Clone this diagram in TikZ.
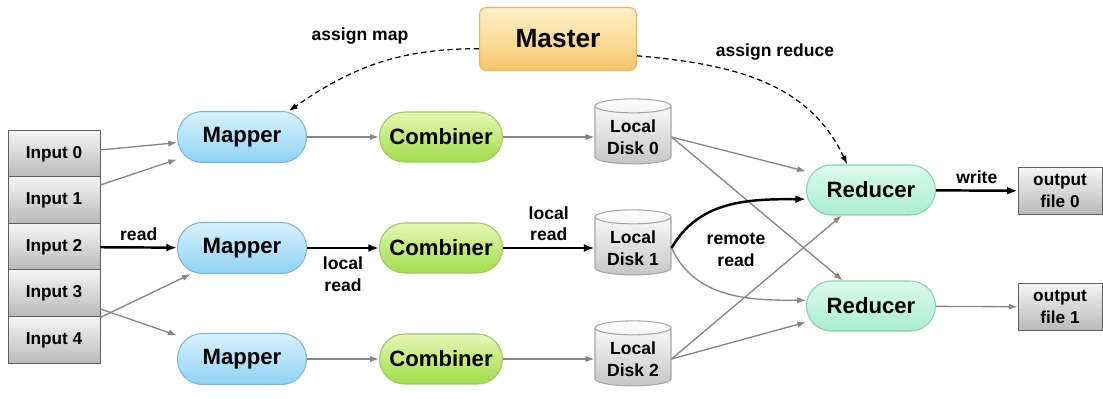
\documentclass[tikz,border=0pt]{standalone}
\usepackage{fontspec}
\setmainfont{Liberation Sans}
\usepackage{tikz}
\usetikzlibrary{arrows.meta,shapes.geometric}

\definecolor{MapTop}{HTML}{D8F1FD}
\definecolor{MapBot}{HTML}{8FD2F4}
\definecolor{MapLine}{HTML}{7BB6DC}
\definecolor{CombTop}{HTML}{E4F8B4}
\definecolor{CombBot}{HTML}{A2DC48}
\definecolor{CombLine}{HTML}{9CC868}
\definecolor{RedTop}{HTML}{DDFAEF}
\definecolor{RedBot}{HTML}{A8EDD2}
\definecolor{RedLine}{HTML}{86CFAE}
\definecolor{MasterTop}{HTML}{FDF1C8}
\definecolor{MasterBot}{HTML}{F6C76C}
\definecolor{MasterLine}{HTML}{EFB45A}

\tikzset{
  filebox/.style={rectangle, draw=gray!75!black, line width=0.5pt, top color=gray!8, bottom color=gray!55,
    minimum width=1.84cm, minimum height=0.93cm, align=center, font=\bfseries\fontsize{9.8}{12.3}\selectfont},
  pill/.style={rectangle, rounded corners=0.5cm, line width=0.6pt, minimum width=2.58cm, minimum height=1.02cm,
    font=\bfseries\fontsize{12.6}{14}\selectfont},
  mapper/.style={pill, draw=MapLine, top color=MapTop, bottom color=MapBot},
  combiner/.style={pill, draw=CombLine, top color=CombTop, bottom color=CombBot, minimum width=2.46cm, minimum height=1cm},
  reducer/.style={pill, draw=RedLine, top color=RedTop, bottom color=RedBot, minimum height=1cm},
  disk/.style={cylinder, shape border rotate=90, aspect=0.22, draw=gray!70, line width=0.6pt,
    top color=white, bottom color=gray!45, minimum width=1.52cm, minimum height=1.3cm,
    align=center, font=\bfseries\fontsize{10}{12.3}\selectfont},
  lbl/.style={align=center, font=\bfseries\fontsize{10}{12.3}\selectfont},
  flow/.style={draw=gray!95, line width=0.75pt, -{Latex[length=5pt,width=3.5pt]}},
  strong/.style={draw=black, line width=1.4pt, -{Latex[length=6pt,width=4.5pt]}},
  ctrl/.style={draw=black, line width=0.7pt, dash pattern=on 3pt off 2pt, -{Latex[length=5pt,width=3.5pt]}}
}

\begin{document}
\begin{tikzpicture}[x=0.02cm, y=0.02cm]
\useasboundingbox (0,0) rectangle (1103,-399);

% input splits
\foreach \i/\y in {0/154, 1/200, 2/247, 3/293, 4/340}
  \node[filebox] (in\i) at (54,-\y) {Input \i};

% map side, one row per mapper
\foreach \r/\y in {0/137, 1/248, 2/359} {
  \node[mapper] (map\r) at (242,-\y) {Mapper};
  \node[combiner] (comb\r) at (441,-\y) {Combiner};
  \node[disk] (disk\r) at (633,-\y) {Local\\Disk \r};
}

\node[reducer] (red0) at (871,-190) {Reducer};
\node[reducer] (red1) at (871,-306) {Reducer};
\node[filebox, minimum width=1.68cm, minimum height=0.94cm] (out0) at (1060,-191) {output\\file 0};
\node[filebox, minimum width=1.68cm, minimum height=0.94cm] (out1) at (1060,-307) {output\\file 1};

\node[rectangle, rounded corners=4pt, draw=MasterLine, line width=0.6pt, top color=MasterTop, bottom color=MasterBot,
  minimum width=3.14cm, minimum height=1.26cm, font=\bfseries\fontsize{15}{18}\selectfont] (master) at (558,-39) {Master};

% inputs to mappers
\draw[flow] (in0.5) -- (map0.185);
\draw[flow] (in1.18) -- (map0.199);
\draw[strong] (in2) -- node[lbl, above] {read} (map1);
\draw[flow] (in3.-19) -- (map2.160);
\draw[flow] (in4.26) -- (map1.207);

% mapper -> combiner -> disk
\foreach \r in {0,2} {
  \draw[flow] (map\r) -- (comb\r);
  \draw[flow] (comb\r) -- (disk\r.180);
}
\draw[strong] (map1) -- node[lbl, below=1pt] {local\\read} (comb1);
\draw[strong] (comb1) -- node[lbl, above] {local\\read} (disk1.180);

% shuffle
\draw[flow] (disk0.0) -- (red0.164);
\draw[flow] (disk0.0) -- (red1.138);
\draw[strong] (disk1.0) to[out=60, in=180] (red0.188);
\draw[flow] (disk1.0) to[out=-65, in=180] (red1.175);
\draw[flow] (disk2.0) -- (red0.221);
\draw[flow] (disk2.0) -- (red1.194);
\node[lbl] (remote) at (736,-250) {remote\\read};

% reducers write out
\draw[strong] (red0) -- node[lbl, above] {write} (out0);
\draw[flow] (red1) -- (out1);

% master assigns tasks
\draw[ctrl] (master.187) to[out=180, in=35] (map0.29);
\draw[ctrl] (master.-12) to[out=-5, in=115] (red0.133);
\node[lbl] (amap) at (360,-36) {assign map};
\node[lbl] (ared) at (775,-52) {assign reduce};
\end{tikzpicture}
\end{document}
